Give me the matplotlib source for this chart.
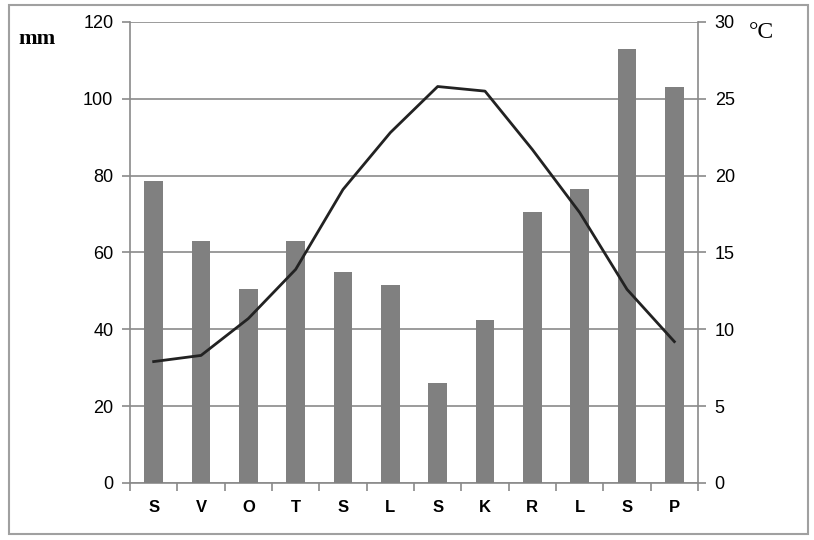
import matplotlib
matplotlib.use("Agg")
import matplotlib.pyplot as plt
from matplotlib.patches import Rectangle

months = ["S", "V", "O", "T", "S", "L", "S", "K", "R", "L", "S", "P"]
rain_mm = [78.5, 63, 50.5, 63, 55, 51.5, 26, 42.5, 70.5, 76.5, 113, 103]
temp_c = [7.9, 8.3, 10.7, 13.9, 19.1, 22.8, 25.8, 25.5, 21.7, 17.6, 12.6, 9.2]

fig = plt.figure(figsize=(8.14, 5.40), dpi=100)
ax = fig.add_axes([0.1597, 0.1056, 0.6978, 0.8537])
ax2 = ax.twinx()

x = range(len(months))
ax.bar(x, rain_mm, width=0.4, color="#808080", zorder=3)
ax2.plot(x, temp_c, color="#222222", lw=2, zorder=4)

ax.set_xlim(-0.5, len(months) - 0.5)
ax.set_ylim(0, 120)
ax2.set_ylim(0, 30)
ax.set_yticks([0, 20, 40, 60, 80, 100, 120])
ax2.set_yticks([0, 5, 10, 15, 20, 25, 30])
ax.grid(axis="y", color="#8a8a8a", lw=1.2, zorder=0)
ax.set_axisbelow(True)

# ticks sit between the months, labels in the middle
ax.set_xticks([i - 0.5 for i in range(len(months) + 1)])
ax.set_xticklabels([])
ax.set_xticks(list(x), minor=True)
ax.set_xticklabels(months, minor=True, fontsize=12, fontweight="bold",
                   family="Liberation Sans")
ax.tick_params(axis="x", which="minor", length=0, pad=12)
ax.tick_params(axis="x", which="major", length=6, color="#8a8a8a", width=1.2)
ax.tick_params(axis="y", length=6, color="#8a8a8a", width=1.2, labelsize=13, pad=6)
ax2.tick_params(axis="y", length=6, color="#8a8a8a", width=1.2, labelsize=13, pad=6)
for lab in ax.get_yticklabels() + ax2.get_yticklabels():
    lab.set_family("Liberation Sans")

for a in (ax, ax2):
    a.spines["top"].set_visible(False)
    for s in ("left", "right", "bottom"):
        a.spines[s].set_color("#8a8a8a")
        a.spines[s].set_linewidth(1.2)
ax.spines["right"].set_visible(False)
ax2.spines["left"].set_visible(False)
ax2.spines["bottom"].set_visible(False)

fig.text(0.022, 0.918, "mm", fontsize=16, family="Liberation Serif", fontweight="bold")
fig.text(0.92, 0.93, "°C", fontsize=17, family="Liberation Serif")

fig.patches.append(Rectangle((0.011, 0.012), 0.982, 0.978, transform=fig.transFigure,
                             fill=False, edgecolor="#a0a0a0", lw=1.5))

fig.savefig("out.png", dpi=100)
